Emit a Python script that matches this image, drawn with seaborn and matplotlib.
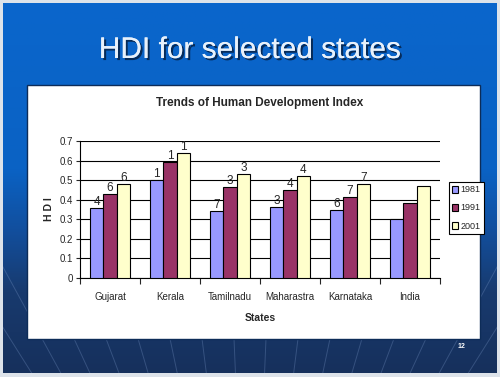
import numpy as np
import pandas as pd
import matplotlib
matplotlib.use('Agg')
import matplotlib.pyplot as plt
import matplotlib.patheffects as pe
from matplotlib.patches import Rectangle
import seaborn as sns

# HDI values per state
states = ['Gujarat', 'Kerala', 'Tamilnadu', 'Maharastra', 'Karnataka', 'India']
years = ['1981', '1991', '2001']
hdi_1981 = [0.360, 0.500, 0.343, 0.363, 0.346, 0.302]
hdi_1991 = [0.431, 0.591, 0.466, 0.452, 0.412, 0.381]
hdi_2001 = [0.479, 0.638, 0.531, 0.523, 0.478, 0.472]
# rank labels drawn above the bars (India has none)
rank_1981 = ['4', '1', '7', '3', '6', '']
rank_1991 = ['6', '1', '3', '4', '7', '']
rank_2001 = ['6', '1', '3', '4', '7', '']
y_ticks = [0, 0.1, 0.2, 0.3, 0.4, 0.5, 0.6, 0.7]
y_tick_labels = ['0', '0.1', '0.2', '0.3', '0.4', '0.5', '0.6', '0.7']

df = pd.DataFrame({
    'state': states * 3,
    'year': [y for y in years for _ in states],
    'hdi': hdi_1981 + hdi_1991 + hdi_2001,
})

sns.set_style('white')
plt.rcParams['font.family'] = ['Liberation Sans', 'DejaVu Sans']
narrow = ['Liberation Sans Narrow', 'Liberation Sans', 'DejaVu Sans']

W, H = 500, 377
fig = plt.figure(figsize=(5, 3.77), dpi=100)
fig.patch.set_facecolor('#dde3ea')

# slide background, in pixel coordinates
bg = fig.add_axes([0, 0, 1, 1])
bg.set_xlim(0, W)
bg.set_ylim(H, 0)
bg.axis('off')

stops = np.array([0, 0.45, 0.62, 0.78, 1.0])
cols = np.array([[10, 102, 204], [10, 98, 196], [18, 78, 156], [24, 58, 110], [22, 48, 92]]) / 255
t = np.linspace(0, 1, 300)
grad = np.stack([np.interp(t, stops, cols[:, i]) for i in range(3)], axis=1)
grad = np.repeat(grad[:, None, :], 2, axis=1)
bg.imshow(grad, extent=(3, 497, 373, 3), aspect='auto', zorder=0)
slide = Rectangle((3, 250), 494, 123, transform=bg.transData, facecolor='none', edgecolor='none')
bg.add_patch(slide)

# faint fan lines in the lower part of the slide
for xt in np.linspace(-300, 800, 24):
    ln, = bg.plot([250, xt], [720, 150], color='#7f9ccc', lw=0.7, alpha=0.3, zorder=1)
    ln.set_clip_path(slide)

# white chart box
bg.add_patch(Rectangle((27, 85), 453, 254, facecolor='white', edgecolor='#0d2c58', lw=1.0, zorder=2))

bg.text(250, 50, 'HDI for selected states', ha='center', va='center', fontsize=21.5,
        color='#e8f1fb', zorder=3,
        path_effects=[pe.withSimplePatchShadow(offset=(1.5, -1.5), shadow_rgbFace='#06254d', alpha=0.9), pe.Normal()])
bg.text(462, 347, '12', ha='center', va='center', fontsize=5, color='white', fontweight='bold', zorder=3)

ax = fig.add_axes([80 / W, 1 - 278 / H, 360 / W, 137 / H])
sns.barplot(data=df, x='state', y='hdi', hue='year', order=states, hue_order=years,
            palette=['#9999ff', '#993366', '#ffffcc'], saturation=1, width=0.67,
            edgecolor='black', linewidth=0.8, ax=ax, zorder=3)

for cont, labs in zip(ax.containers, [rank_1981, rank_1991, rank_2001]):
    ax.bar_label(cont, labels=labs, padding=0, fontsize=8.5, family=narrow)

ax.set_xlim(-0.5, len(states) - 0.5)
ax.set_ylim(0, 0.7)
ax.set_yticks(y_ticks)
ax.set_yticklabels(y_tick_labels, family=narrow, fontsize=7)
ax.yaxis.grid(True, color='black', lw=0.8, zorder=0)
ax.set_axisbelow(True)
ax.tick_params(axis='y', direction='out', length=3, width=0.8, pad=2, left=True)
ax.set_xticks(range(len(states)))
ax.set_xticklabels(states, family=narrow, fontsize=7)
ax.set_xticks(np.arange(-0.5, len(states)), minor=True)
ax.tick_params(axis='x', which='major', length=0, pad=10)
ax.tick_params(axis='x', which='minor', direction='out', length=4, width=0.8, bottom=True)
for s in ['top', 'right']:
    ax.spines[s].set_visible(False)
for s in ['left', 'bottom']:
    ax.spines[s].set_color('black')
    ax.spines[s].set_linewidth(0.8)

ax.set_xlabel('States', family=narrow, fontsize=7.5, fontweight='bold', labelpad=8)
ax.set_ylabel('H D I', family=narrow, fontsize=7.5, fontweight='bold', labelpad=4)
ax.set_title('Trends of Human Development Index', family=narrow, fontsize=8.5,
             fontweight='bold', pad=25)

ax.legend(loc='center left', bbox_to_anchor=(449 / W, 1 - 208 / H), bbox_transform=fig.transFigure,
          frameon=True, fancybox=False, edgecolor='black', framealpha=1,
          prop={'family': narrow, 'size': 6.5}, handlelength=0.7, handleheight=0.9,
          handletextpad=0.25, labelspacing=1.0, borderpad=0.35, borderaxespad=0)
ax.get_legend().get_frame().set_linewidth(0.8)

fig.savefig('out.png', dpi=100)
